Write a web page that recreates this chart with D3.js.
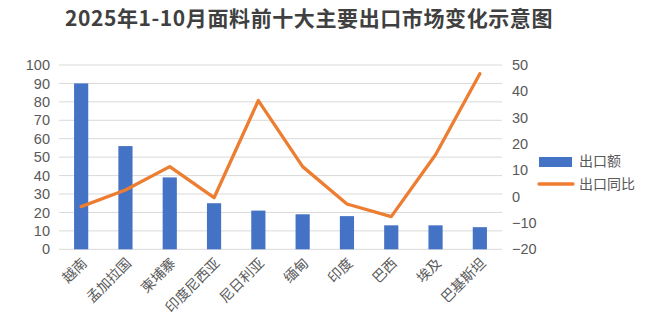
<!DOCTYPE html>
<html><head><meta charset="utf-8">
<script src="https://cdn.jsdelivr.net/npm/d3@7"></script>
<style>body{margin:0;background:#fff;}svg{display:block;font-family:"Noto Sans CJK SC","Microsoft YaHei",sans-serif;}</style>
</head><body><svg id="c" width="649" height="328"></svg>
<script>
const categories = ["越南","孟加拉国","柬埔寨","印度尼西亚","尼日利亚","缅甸","印度","巴西","埃及","巴基斯坦"];
const exportValues = [90,56,39,25,21,19,18,13,13,12];
const yoyValues = [-3.8,2.5,11.4,-0.4,36.5,11.4,-2.8,-7.6,15.9,46.7];
const leftTicks = [0,10,20,30,40,50,60,70,80,90,100];
const rightTicks = [-20,-10,0,10,20,30,40,50];
const seriesNames = ["出口额","出口同比"];
const title = "2025年1-10月面料前十大主要出口市场变化示意图";

const svg = d3.select("#c");
const L = 59, R = 502, T = 65, B = 249.3;
const x = d3.scaleBand().domain(categories).range([L, R]).paddingInner(0.68).paddingOuter(0.34);
const yL = d3.scaleLinear().domain([0,100]).range([B, T]);
const yR = d3.scaleLinear().domain([-20,50]).range([B, T]);

svg.append("text").attr("x", 309).attr("y", 26).attr("text-anchor","middle")
  .attr("font-size", 21).attr("font-weight","bold").attr("letter-spacing", 0.6).attr("fill","#404040").text(title);

// gridlines
svg.append("g").selectAll("line").data(leftTicks).join("line")
  .attr("x1", L).attr("x2", R).attr("y1", d=>yL(d)).attr("y2", d=>yL(d))
  .attr("stroke", "#d9d9d9").attr("stroke-width", 1);

// left axis
const gl = svg.append("g").attr("transform", `translate(${L},0)`)
  .call(d3.axisLeft(yL).tickValues(leftTicks).tickSize(0).tickPadding(9));
gl.select(".domain").remove();
gl.selectAll("text").attr("font-size", 14.5).attr("fill", "#595959").attr("font-family","Liberation Sans, Arial, sans-serif");

// right axis
const gr = svg.append("g").attr("transform", `translate(${R},0)`)
  .call(d3.axisRight(yR).tickValues(rightTicks).tickSize(0).tickPadding(10));
gr.select(".domain").remove();
gr.selectAll("text").attr("font-size", 14.5).attr("fill", "#595959").attr("font-family","Liberation Sans, Arial, sans-serif");

// bars
svg.append("g").selectAll("rect").data(exportValues).join("rect")
  .attr("x", (d,i)=>x(categories[i])).attr("width", x.bandwidth())
  .attr("y", d=>yL(d)).attr("height", d=>B - yL(d)).attr("fill", "#4472C4");

// line
const cx = c => x(c) + x.bandwidth()/2;
svg.append("path").datum(yoyValues)
  .attr("d", d3.line().x((d,i)=>cx(categories[i])).y(d=>yR(d)))
  .attr("fill","none").attr("stroke","#ED7D31").attr("stroke-width",3.3).attr("stroke-linejoin","round").attr("stroke-linecap","round");

// x labels
svg.append("g").selectAll("text").data(categories).join("text")
  .attr("transform", d=>`translate(${cx(d)+4},${B+12}) rotate(-45)`)
  .attr("text-anchor","end").attr("dominant-baseline","middle")
  .attr("font-size", 14).attr("fill","#595959").text(d=>d);

// legend
const lg = svg.append("g");
lg.append("rect").attr("x", 539).attr("y", 157).attr("width", 33).attr("height", 10).attr("fill", "#4472C4");
lg.append("text").attr("x", 579).attr("y", 162).attr("dominant-baseline","middle").attr("font-size",14).attr("fill","#595959").text(seriesNames[0]);
lg.append("line").attr("x1", 539).attr("x2", 573).attr("y1", 184).attr("y2", 184).attr("stroke","#ED7D31").attr("stroke-width",3.3).attr("stroke-linecap","round");
lg.append("text").attr("x", 579).attr("y", 185).attr("dominant-baseline","middle").attr("font-size",14).attr("fill","#595959").text(seriesNames[1]);
</script></body></html>
